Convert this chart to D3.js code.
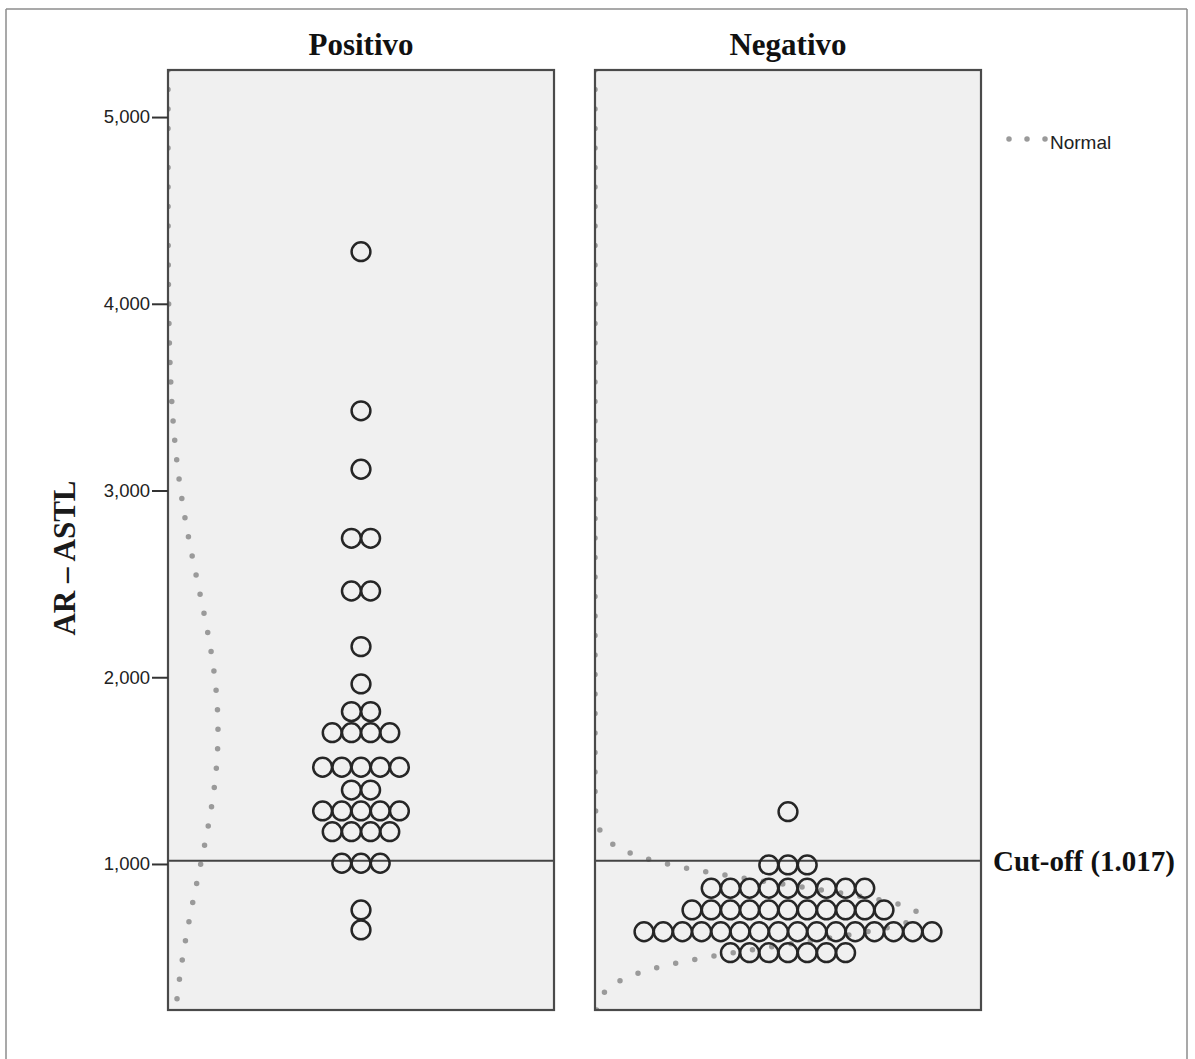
<!DOCTYPE html>
<html>
<head>
<meta charset="utf-8">
<script src="https://cdn.jsdelivr.net/npm/d3@7"></script>
<style>
  html, body { margin: 0; padding: 0; background: #fff; }
  svg { display: block; }
</style>
</head>
<body>
<svg id="chart" width="1195" height="1059"></svg>
<script>
// ---------------- data ----------------
const groups = ["Positivo", "Negativo"];
const positivoValues = [
  4279, 3427, 3114, 2744, 2744, 2462, 2462, 2164, 1964, 1816, 1816,
  1703, 1703, 1703, 1703,
  1518, 1518, 1518, 1518, 1518,
  1396, 1396,
  1284, 1284, 1284, 1284, 1284,
  1173, 1173, 1173, 1173,
  1004, 1004, 1004,
  754, 647
];
const negativoValues = [
  1280,
  995, 995, 995,
  870, 870, 870, 870, 870, 870, 870, 870, 870,
  754, 754, 754, 754, 754, 754, 754, 754, 754, 754, 754,
  637, 637, 637, 637, 637, 637, 637, 637, 637, 637, 637, 637, 637, 637, 637, 637,
  525, 525, 525, 525, 525, 525, 525
];
const yTickValues = [1000, 2000, 3000, 4000, 5000];
const yDomain = [218, 5252];
const cutoffValue = 1017;
const cutoffLabel = "Cut-off (1.017)";
const yTitle = "AR \u2013 ASTL";
const legendLabel = "Normal";

const seriesByGroup = { "Positivo": positivoValues, "Negativo": negativoValues };

// ---------------- layout ----------------
const svg = d3.select("#chart");
const panelTop = 70, panelBottom = 1010;
const x = d3.scaleBand().domain(groups).range([168, 981]).paddingInner(0.096).paddingOuter(0);
const y = d3.scaleLinear().domain(yDomain).range([panelBottom, panelTop]);

const dotR = 9.4, dotStep = 19.2;
const curveScale = 2700; // horizontal scaling of n * normal pdf

// outer frame
const frame = svg.append("g").attr("fill", "none").attr("stroke", "#8c8c8c").attr("stroke-width", 1.5);
frame.append("line").attr("x1", 6).attr("y1", 9).attr("x2", 1187).attr("y2", 9);
frame.append("line").attr("x1", 6).attr("y1", 9).attr("x2", 6).attr("y2", 1059);
frame.append("line").attr("x1", 1187).attr("y1", 9).attr("x2", 1187).attr("y2", 1059);

const defs = svg.append("defs");

groups.forEach((g, gi) => {
  const x0 = x(g), w = x.bandwidth();
  const vals = seriesByGroup[g];
  const panel = svg.append("g");

  panel.append("rect").attr("x", x0).attr("y", panelTop).attr("width", w).attr("height", panelBottom - panelTop)
    .attr("fill", "#f0f0f0");

  defs.append("clipPath").attr("id", "clip" + gi)
    .append("rect").attr("x", x0).attr("y", panelTop).attr("width", w).attr("height", panelBottom - panelTop);

  // normal curve
  const n = vals.length;
  const mean = d3.mean(vals);
  const sd = d3.deviation(vals);
  const pdf = v => Math.exp(-0.5 * ((v - mean) / sd) ** 2) / (sd * Math.sqrt(2 * Math.PI));
  const samples = d3.range(yDomain[0], yDomain[1], 5).concat([yDomain[1]]);
  const line = d3.line().x(v => x0 + n * pdf(v) * curveScale).y(v => y(v)).curve(d3.curveLinear);
  panel.append("path").datum(samples.slice().reverse())
    .attr("d", line)
    .attr("clip-path", `url(#clip${gi})`)
    .attr("fill", "none")
    .attr("stroke", "#9a9a9a")
    .attr("stroke-width", 5.5)
    .attr("stroke-linecap", "round")
    .attr("stroke-dasharray", "0 19.5");

  // cutoff line
  panel.append("line").attr("x1", x0).attr("x2", x0 + w)
    .attr("y1", y(cutoffValue)).attr("y2", y(cutoffValue))
    .attr("stroke", "#444").attr("stroke-width", 2);

  // dot plot: group identical values and stack symmetrically
  const cx = x0 + w / 2;
  const bins = d3.groups(vals, v => v);
  const dots = [];
  bins.forEach(([v, arr]) => {
    arr.forEach((_, i) => dots.push({ v, off: i - (arr.length - 1) / 2 }));
  });
  panel.append("g").selectAll("circle").data(dots).join("circle")
    .attr("cx", d => cx + d.off * dotStep)
    .attr("cy", d => y(d.v))
    .attr("r", dotR)
    .attr("fill", "none")
    .attr("stroke", "#262626")
    .attr("stroke-width", 2.5);

  // border
  panel.append("rect").attr("x", x0).attr("y", panelTop).attr("width", w).attr("height", panelBottom - panelTop)
    .attr("fill", "none").attr("stroke", "#4a4a4a").attr("stroke-width", 2.2);

  // title
  svg.append("text").attr("x", cx).attr("y", 55)
    .attr("text-anchor", "middle")
    .attr("font-family", "'Liberation Serif', 'Times New Roman', serif")
    .attr("font-weight", "bold").attr("font-size", 31)
    .attr("fill", "#111")
    .text(g);
});

// y axis
const axis = d3.axisLeft(y).tickValues(yTickValues).tickFormat(d3.format(",")).tickSize(16).tickPadding(2);
const ax = svg.append("g").attr("transform", `translate(${x(groups[0])},0)`).call(axis);
ax.select(".domain").remove();
ax.selectAll(".tick line").attr("stroke", "#333").attr("stroke-width", 2);
ax.selectAll(".tick text")
  .attr("font-family", "'Liberation Sans', Arial, sans-serif")
  .attr("font-size", 18.5).attr("fill", "#222");

// y title
svg.append("text")
  .attr("transform", `translate(75, 558) rotate(-90)`)
  .attr("text-anchor", "middle")
  .attr("font-family", "'Liberation Serif', 'Times New Roman', serif")
  .attr("font-weight", "bold").attr("font-size", 31)
  .attr("fill", "#1a1a1a")
  .text(yTitle);

// cutoff label
svg.append("text")
  .attr("x", 993).attr("y", y(cutoffValue) + 10)
  .attr("font-family", "'Liberation Serif', 'Times New Roman', serif")
  .attr("font-weight", "bold").attr("font-size", 29)
  .attr("fill", "#111")
  .text(cutoffLabel);

// legend
const lg = svg.append("g");
lg.append("line").attr("x1", 1009).attr("x2", 1046).attr("y1", 139).attr("y2", 139)
  .attr("stroke", "#9a9a9a").attr("stroke-width", 5.5).attr("stroke-linecap", "round")
  .attr("stroke-dasharray", "0 18");
lg.append("text").attr("x", 1050).attr("y", 149)
  .attr("font-family", "'Liberation Sans', Arial, sans-serif")
  .attr("font-size", 19).attr("fill", "#222")
  .text(legendLabel);
</script>
</body>
</html>
